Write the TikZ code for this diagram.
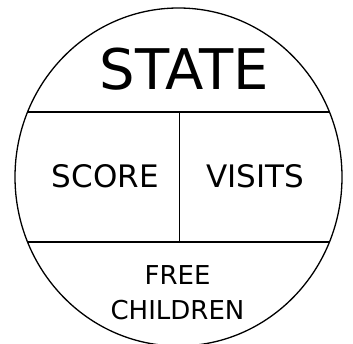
\documentclass[tikz,border=0pt]{standalone}
\usepackage{fontspec}
\setmainfont{DejaVu Sans}
\begin{document}
\begin{tikzpicture}[x=1pt, y=-1pt, line width=1.3pt,
    label/.style={inner sep=0pt, anchor=base}]
    \useasboundingbox (0,0) rectangle (353,344);
    % Vòng ngoài
    \draw (178.5,177) ellipse [x radius=163.5, y radius=169];
    % Các đường chia
    \begin{scope}
        \clip (178.5,177) ellipse [x radius=163.5, y radius=169];
        \draw (0,112) -- (353,112);
        \draw (0,242) -- (353,242);
    \end{scope}
    \draw (179.5,112) -- (179.5,242);
    % Chữ
    \node[label, font=\fontsize{56}{56}\selectfont] (state) at (184.3,90) {STATE};
    \node[label, font=\fontsize{31}{31}\selectfont] (score) at (105.3,187.7) {SCORE};
    \node[label, font=\fontsize{31}{31}\selectfont] (visits) at (255.5,187.7) {VISITS};
    \node[label, font=\fontsize{26}{34.3}\selectfont, align=center] (children) at (177.5,319.3) {FREE\\CHILDREN};
\end{tikzpicture}
\end{document}
